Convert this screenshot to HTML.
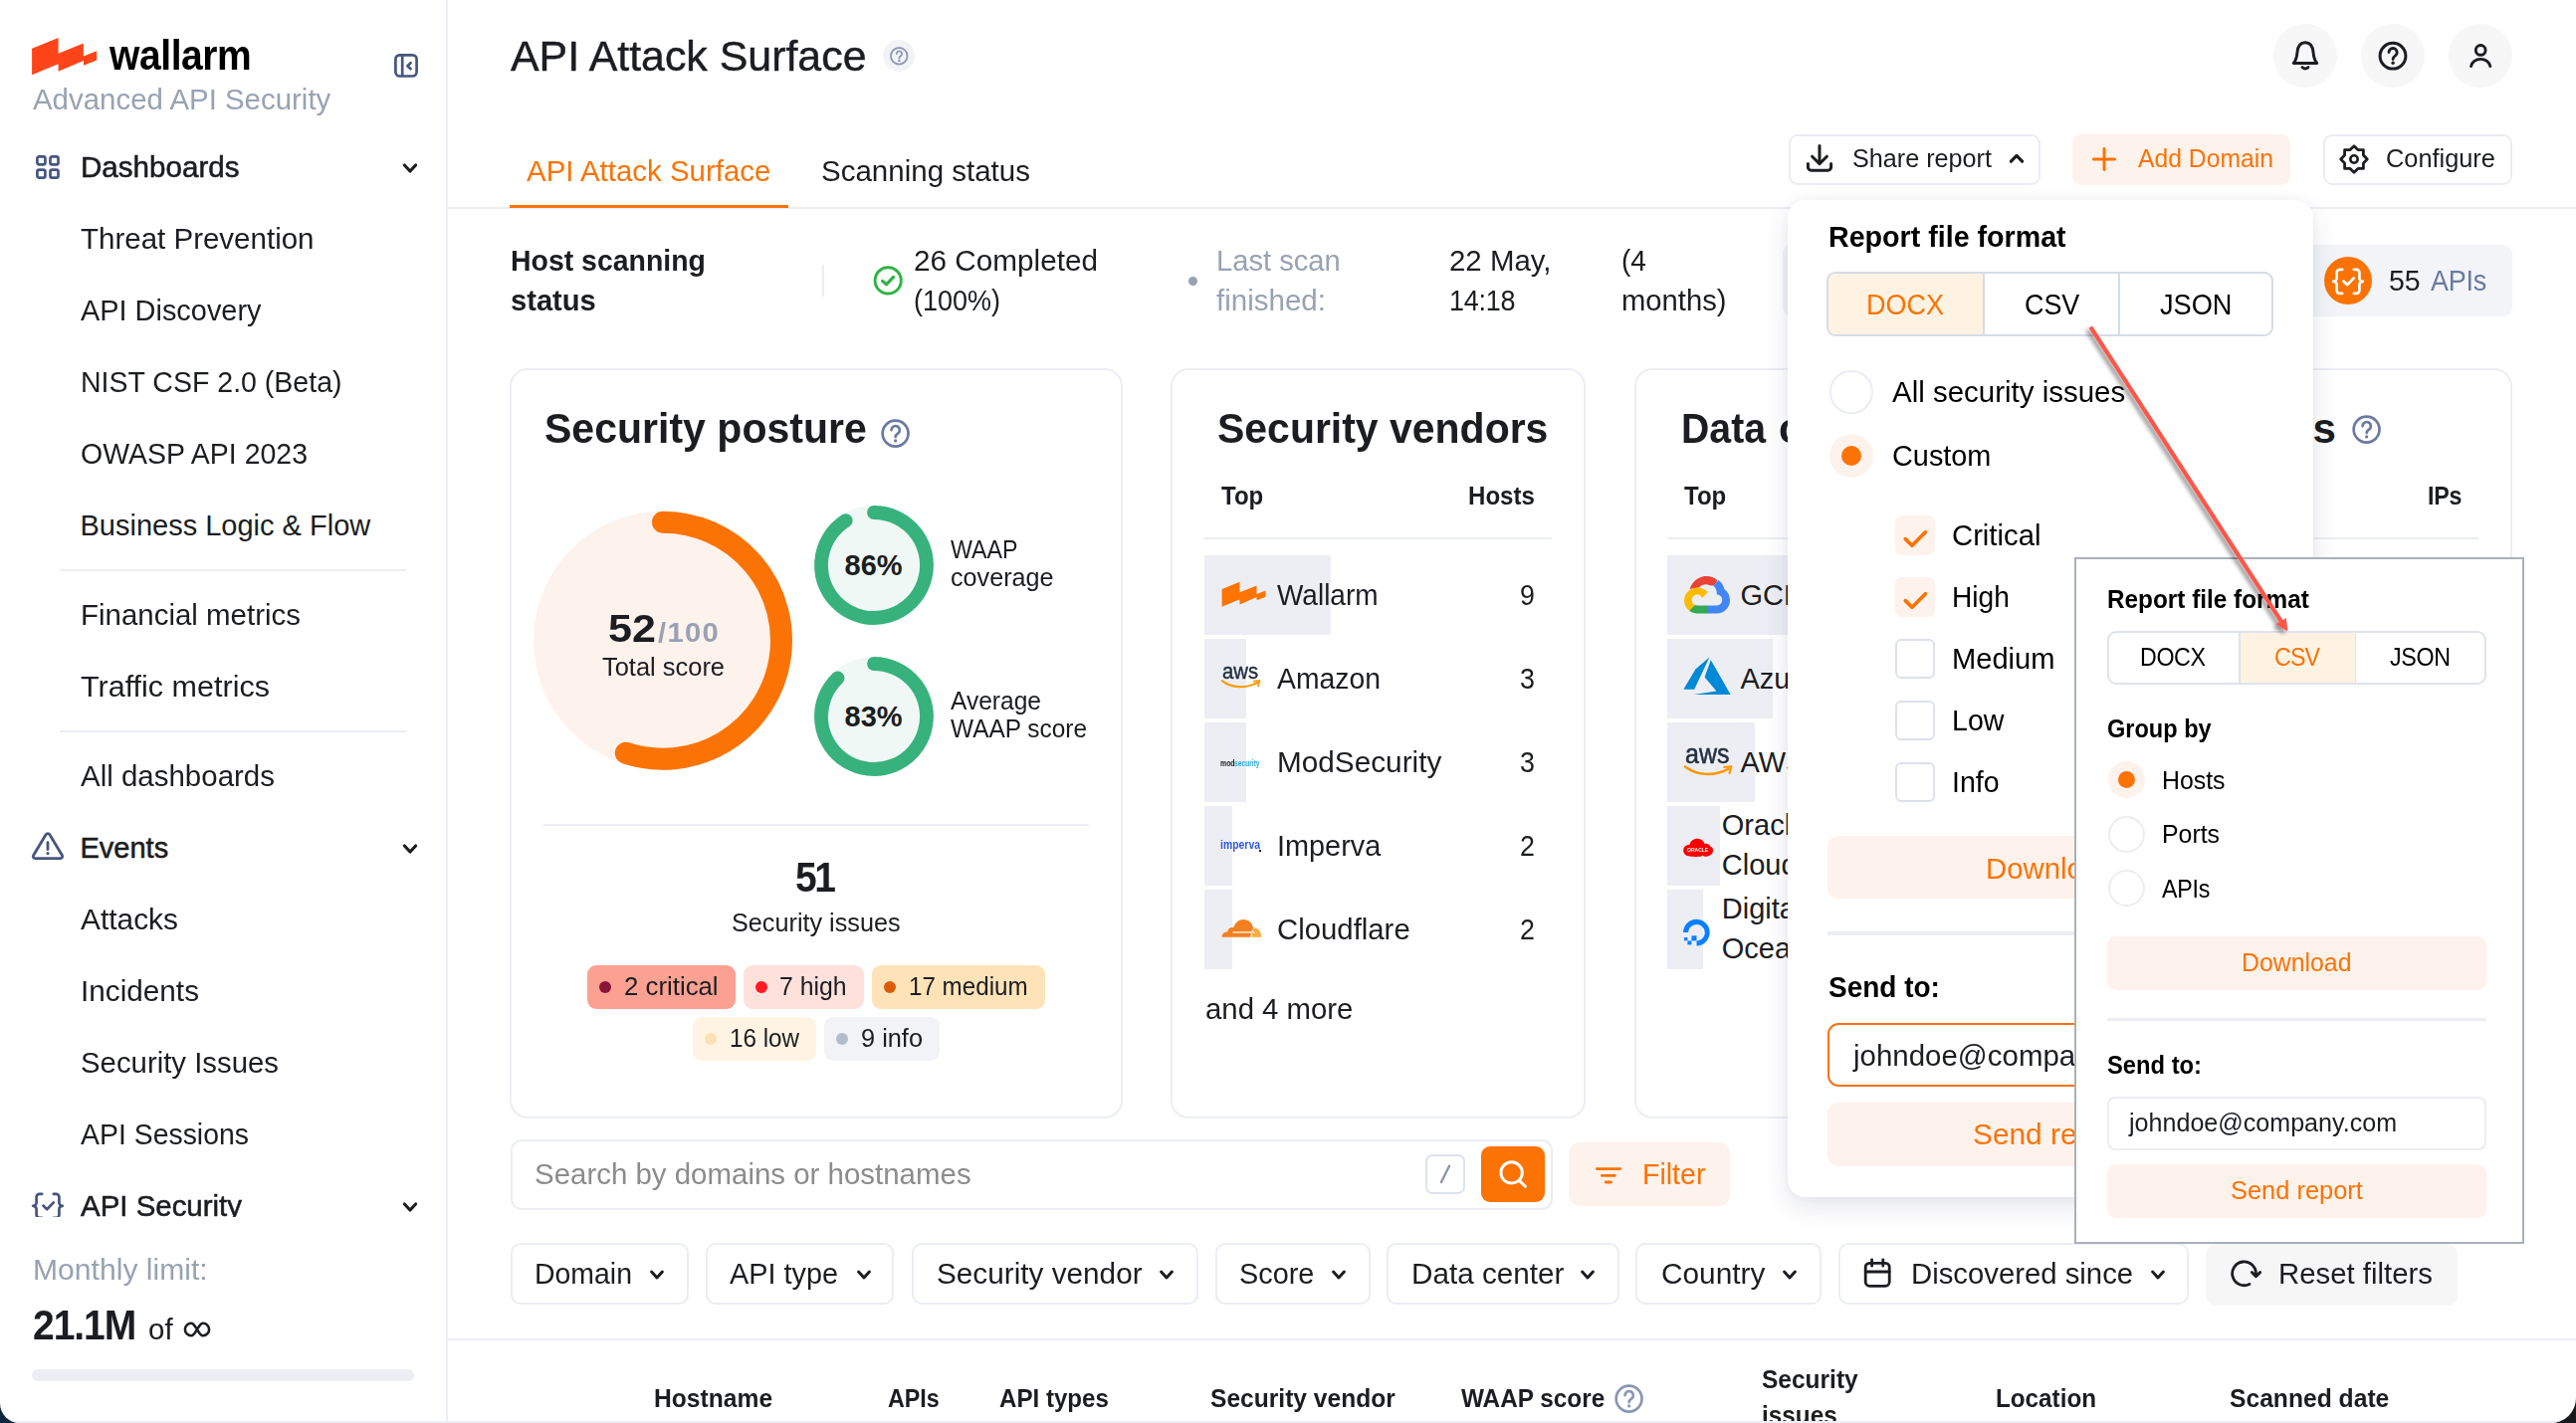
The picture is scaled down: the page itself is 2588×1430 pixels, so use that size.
<!DOCTYPE html>
<html><head><meta charset="utf-8"><title>API Attack Surface</title>
<style>
html,body{margin:0;padding:0;}
body{width:2588px;height:1430px;overflow:hidden;background:linear-gradient(90deg,#10263d 0%,#10263d 40%,#18191b 60%);font-family:"Liberation Sans",sans-serif;color:#1b1d21;}
#app{position:absolute;left:0;top:0;width:2588px;height:1430px;background:#fff;border-radius:0 0 25px 20px;overflow:hidden;}
.t{position:absolute;white-space:nowrap;line-height:1;transform-origin:0 0;}
.b{position:absolute;box-sizing:border-box;}
</style></head><body><div id="app">
<div class="b" style="left:448.0px;top:0.0px;width:2.0px;height:1430.0px;background:#eceef4;"></div>
<div class="b" style="left:0;top:0;width:448px;height:1223px;overflow:hidden;">
<svg class="b" style="left:0.0px;top:0.0px;" width="120" height="90" viewBox="0 0 120 90" fill="none"><path d="M32.1 48.8 L58.6 38.1 L58.6 53.8 L83.8 43.6 L83.8 56.5 L97.2 51.2 L97.2 60.4 L84 65.8 L84 60.9 L58.6 71.8 L58.6 64.3 L32.1 75.3 Z" fill="#ff4419"/></svg>
<span class="t" style="left:109.5px;top:35.0px;font-size:42px;font-weight:700;color:#000;letter-spacing:-0.477px;transform:scaleX(0.9300);">wallarm</span>
<span class="t" style="left:32.9px;top:86.0px;font-size:29px;color:#98a2b3;transform:scaleX(1.0145);">Advanced API Security</span>
<svg class="b" style="left:392.0px;top:50.0px;" width="32" height="32" viewBox="0 0 32 32" fill="none"><rect x="5.4" y="5.3" width="21.2" height="21.2" rx="4.2" stroke="#46557f" stroke-width="2.7"/><path d="M12.2 5.3 V26.5" stroke="#46557f" stroke-width="2.7"/><path d="M20.6 13.2 L17.4 16.2 L20.6 19.2" stroke="#46557f" stroke-width="2.7" stroke-linecap="round" stroke-linejoin="round"/></svg>
<svg class="b" style="left:34.0px;top:154.0px;" width="28" height="28" viewBox="0 0 28 28" fill="none"><rect x="3.4" y="3.3" width="8" height="8" rx="1.9" stroke="#46557f" stroke-width="2.7"/><rect x="3.4" y="16.6" width="8" height="8" rx="1.9" stroke="#46557f" stroke-width="2.7"/><rect x="16.5" y="3.3" width="8" height="8" rx="1.9" stroke="#46557f" stroke-width="2.7"/><rect x="16.5" y="16.6" width="8" height="8" rx="1.9" stroke="#46557f" stroke-width="2.7"/></svg>
<span class="t" style="left:80.5px;top:154.0px;font-size:29px;transform:scaleX(1.0200);-webkit-text-stroke:0.55px #1b1d21;">Dashboards</span>
<svg class="b" style="left:402.0px;top:160.8px;" width="20" height="16" viewBox="0 0 20 16" fill="none"><path d="M4.4 5.0 L10 11.0 L15.6 5.0" stroke="#1b1d21" stroke-width="3.2" stroke-linecap="round" stroke-linejoin="round"/></svg>
<span class="t" style="left:80.5px;top:226.0px;font-size:29px;transform:scaleX(1.0173);">Threat Prevention</span>
<span class="t" style="left:80.5px;top:298.0px;font-size:29px;transform:scaleX(0.9967);">API Discovery</span>
<span class="t" style="left:80.5px;top:370.0px;font-size:29px;transform:scaleX(0.9831);">NIST CSF 2.0 (Beta)</span>
<span class="t" style="left:80.5px;top:442.0px;font-size:29px;transform:scaleX(0.9822);">OWASP API 2023</span>
<span class="t" style="left:80.5px;top:514.0px;font-size:29px;">Business Logic &amp; Flow</span>
<span class="t" style="left:80.5px;top:604.0px;font-size:29px;transform:scaleX(1.0158);">Financial metrics</span>
<span class="t" style="left:80.5px;top:676.0px;font-size:29px;transform:scaleX(1.0529);">Traffic metrics</span>
<span class="t" style="left:80.5px;top:766.0px;font-size:29px;transform:scaleX(1.0165);">All dashboards</span>
<span class="t" style="left:80.5px;top:910.0px;font-size:29px;transform:scaleX(1.0306);">Attacks</span>
<span class="t" style="left:80.5px;top:982.0px;font-size:29px;transform:scaleX(1.0252);">Incidents</span>
<span class="t" style="left:80.5px;top:1054.0px;font-size:29px;transform:scaleX(1.0120);">Security Issues</span>
<span class="t" style="left:80.5px;top:1126.0px;font-size:29px;transform:scaleX(0.9798);">API Sessions</span>
<div class="b" style="left:60.0px;top:572.0px;width:348.0px;height:2.0px;background:#eceef4;"></div>
<div class="b" style="left:60.0px;top:734.0px;width:348.0px;height:2.0px;background:#eceef4;"></div>
<svg class="b" style="left:30.0px;top:834.0px;" width="36" height="32" viewBox="0 0 36 32" fill="none"><path d="M16.2 4.6 L3.6 25.4 a2.1 2.1 0 0 0 1.8 3.2 h25.2 a2.1 2.1 0 0 0 1.8 -3.2 L19.8 4.6 a2.1 2.1 0 0 0 -3.6 0 Z" stroke="#46557f" stroke-width="2.8" stroke-linejoin="round"/><path d="M18 12.6 V19.6" stroke="#46557f" stroke-width="2.8" stroke-linecap="round"/><circle cx="18" cy="23.6" r="1.6" fill="#46557f"/></svg>
<span class="t" style="left:80.5px;top:838.0px;font-size:29px;-webkit-text-stroke:0.55px #1b1d21;">Events</span>
<svg class="b" style="left:402.0px;top:844.5px;" width="20" height="16" viewBox="0 0 20 16" fill="none"><path d="M4.4 5.0 L10 11.0 L15.6 5.0" stroke="#1b1d21" stroke-width="3.2" stroke-linecap="round" stroke-linejoin="round"/></svg>
<svg class="b" style="left:28.0px;top:1194.0px;" width="40" height="34" viewBox="0 0 40 34" fill="none"><path d="M14.2 5.8 h-2.6 a3 3 0 0 0 -3 3 v5.6 a3.4 3.4 0 0 1 -3.4 3.4 a3.4 3.4 0 0 1 3.4 3.4 v5.6 a3 3 0 0 0 3 3 h2.6" stroke="#46557f" stroke-width="2.7" stroke-linecap="round" stroke-linejoin="round"/><path d="M25.8 5.8 h2.6 a3 3 0 0 1 3 3 v5.6 a3.4 3.4 0 0 0 3.4 3.4 a3.4 3.4 0 0 0 -3.4 3.4 v5.6 a3 3 0 0 1 -3 3 h-2.6" stroke="#46557f" stroke-width="2.7" stroke-linecap="round" stroke-linejoin="round"/><path d="M15.4 17.6 L19.2 21.2 L25.8 14.4" stroke="#46557f" stroke-width="2.7" stroke-linecap="round" stroke-linejoin="round"/></svg>
<span class="t" style="left:80.5px;top:1198.0px;font-size:29px;transform:scaleX(1.0153);-webkit-text-stroke:0.55px #1b1d21;">API Security</span>
<svg class="b" style="left:402.0px;top:1204.6px;" width="20" height="16" viewBox="0 0 20 16" fill="none"><path d="M4.4 5.0 L10 11.0 L15.6 5.0" stroke="#1b1d21" stroke-width="3.2" stroke-linecap="round" stroke-linejoin="round"/></svg>
</div>
<span class="t" style="left:32.8px;top:1262.0px;font-size:29px;color:#98a2b3;transform:scaleX(1.0384);">Monthly limit:</span>
<span class="t" style="left:33.3px;top:1311.0px;font-size:42px;font-weight:700;letter-spacing:-1.173px;transform:scaleX(0.9300);">21.1M</span>
<span class="t" style="left:149.0px;top:1322.0px;font-size:29px;transform:scaleX(1.0171);">of</span>
<svg class="b" style="left:182.1px;top:1320.1px;" width="32" height="32" viewBox="0 0 32 32" fill="none"><path d="M16 16 C14 13 12.6 9.7 10.2 9.7 a6.3 6.3 0 0 0 0 12.6 C12.6 22.3 14 19 16 16 C18 13 19.4 9.7 21.8 9.7 a6.3 6.3 0 0 1 0 12.6 C19.4 22.3 18 19 16 16 Z" stroke="#1b1d21" stroke-width="2.6"/></svg>
<div class="b" style="left:32.0px;top:1376.0px;width:384.0px;height:12.0px;background:#edeef3;border-radius:6px;"></div>
<span class="t" style="left:512.5px;top:36.0px;font-size:42px;transform:scaleX(1.0209);-webkit-text-stroke:0.45px #1b1d21;">API Attack Surface</span>
<div class="b" style="left:887.0px;top:40.0px;width:32.0px;height:32.0px;background:#f2f3f6;border-radius:50%;"></div>
<svg class="b" style="left:891.5px;top:44.7px;" width="22.6" height="22.6" viewBox="0 0 32 32" fill="none"><circle cx="16" cy="16" r="11.73" stroke="#8e97b0" stroke-width="2.54"/><path d="M12.3 12.9 a3.8 3.8 0 1 1 5.9 3.2 c-1.4 0.9 -2.1 1.5 -2.1 3.1" stroke="#8e97b0" stroke-width="2.54" stroke-linecap="round" stroke-linejoin="round"/><circle cx="16.05" cy="22.7" r="1.84" fill="#8e97b0"/></svg>
<div class="b" style="left:2284.0px;top:24.0px;width:64.0px;height:64.0px;background:#f7f7f8;border-radius:50%;"></div>
<div class="b" style="left:2372.0px;top:24.0px;width:64.0px;height:64.0px;background:#f7f7f8;border-radius:50%;"></div>
<div class="b" style="left:2460.0px;top:24.0px;width:64.0px;height:64.0px;background:#f7f7f8;border-radius:50%;"></div>
<svg class="b" style="left:2296.0px;top:36.0px;" width="40" height="40" viewBox="0 0 40 40" fill="none"><path d="M8.2 27.5 h23.6 c-2.6 -3 -3.3 -5.6 -3.7 -10.6 C27.6 10.6 24.6 6.8 20 6.8 S12.4 10.6 11.9 16.9 C11.5 21.9 10.8 24.5 8.2 27.5 Z" stroke="#1b1d21" stroke-width="2.9" stroke-linejoin="round"/><path d="M17 31.6 q3 2.6 6 0" stroke="#1b1d21" stroke-width="2.9" stroke-linecap="round"/></svg>
<svg class="b" style="left:2384.0px;top:36.0px;" width="40" height="40" viewBox="0 0 40 40" fill="none"><circle cx="20" cy="20.2" r="12.9" stroke="#1b1d21" stroke-width="3"/><path d="M16 16.6 a4.1 4.1 0 1 1 6.3 3.5 c-1.5 1 -2.2 1.7 -2.2 3.4" stroke="#1b1d21" stroke-width="2.9" stroke-linecap="round" stroke-linejoin="round"/><circle cx="20.1" cy="27.3" r="1.7" fill="#1b1d21"/></svg>
<svg class="b" style="left:2472.0px;top:36.0px;" width="40" height="40" viewBox="0 0 40 40" fill="none"><circle cx="20.2" cy="14.4" r="4.9" stroke="#1b1d21" stroke-width="2.9"/><path d="M10.6 30.6 a9.7 8.4 0 0 1 19.2 0" stroke="#1b1d21" stroke-width="2.9" stroke-linecap="round"/></svg>
<span class="t" style="left:529.2px;top:158.0px;font-size:29px;color:#fb7305;transform:scaleX(1.0149);">API Attack Surface</span>
<span class="t" style="left:824.5px;top:158.0px;font-size:29px;transform:scaleX(1.0176);">Scanning status</span>
<div class="b" style="left:450.0px;top:208.0px;width:2138.0px;height:2.0px;background:#eceef4;"></div>
<div class="b" style="left:512.0px;top:205.6px;width:280.0px;height:3.0px;background:#fb7305;"></div>
<div class="b" style="left:1796.5px;top:134.5px;width:253.0px;height:51.0px;border:2px solid #ebedf4;border-radius:9px;background:#fff;"></div>
<svg class="b" style="left:1810.0px;top:142.0px;" width="36" height="36" viewBox="0 0 36 36" fill="none"><path d="M18 4.6 V21.6 M10.6 15.2 L18 22.6 L25.4 15.2" stroke="#1b1d21" stroke-width="3" stroke-linecap="round" stroke-linejoin="round"/><path d="M6.4 22.4 V26 a3.2 3.2 0 0 0 3.2 3.2 H26.4 a3.2 3.2 0 0 0 3.2 -3.2 V22.4" stroke="#1b1d21" stroke-width="3" stroke-linecap="round" stroke-linejoin="round"/></svg>
<span class="t" style="left:1861.3px;top:147.0px;font-size:25px;transform:scaleX(1.0068);">Share report</span>
<svg class="b" style="left:2016.0px;top:151.0px;" width="20" height="16" viewBox="0 0 20 16" fill="none"><path d="M4.4 11.2 L10 5.4 L15.6 11.2" stroke="#1b1d21" stroke-width="3.2" stroke-linecap="round" stroke-linejoin="round"/></svg>
<div class="b" style="left:2082.0px;top:134.5px;width:218.5px;height:51.0px;background:#fef2ec;border-radius:9px;"></div>
<svg class="b" style="left:2098.0px;top:144.0px;" width="32" height="32" viewBox="0 0 32 32" fill="none"><path d="M16 5.4 V26.6 M5.4 16 H26.6" stroke="#fb7305" stroke-width="2.9" stroke-linecap="round"/></svg>
<span class="t" style="left:2147.5px;top:147.0px;font-size:25px;color:#fb7305;transform:scaleX(0.9886);">Add Domain</span>
<div class="b" style="left:2334.0px;top:134.5px;width:189.5px;height:51.0px;border:2px solid #ebedf4;border-radius:9px;background:#fff;"></div>
<svg class="b" style="left:2346.9px;top:141.8px;" width="36" height="36" viewBox="0 0 36 36" fill="none"><path d="M18.00 4.70 L21.90 8.58 L27.40 8.60 L27.42 14.10 L31.30 18.00 L27.42 21.90 L27.40 27.40 L21.90 27.42 L18.00 31.30 L14.10 27.42 L8.60 27.40 L8.58 21.90 L4.70 18.00 L8.58 14.10 L8.60 8.60 L14.10 8.58 Z" stroke="#1b1d21" stroke-width="2.8" stroke-linejoin="round"/><circle cx="18" cy="18" r="3.7" stroke="#1b1d21" stroke-width="2.6"/></svg>
<span class="t" style="left:2397.4px;top:147.0px;font-size:25px;transform:scaleX(1.0139);">Configure</span>
<span class="t" style="left:512.7px;top:248.0px;font-size:29px;font-weight:700;transform:scaleX(0.9805);">Host scanning</span>
<span class="t" style="left:512.7px;top:288.0px;font-size:29px;font-weight:700;transform:scaleX(1.0045);">status</span>
<div class="b" style="left:826.3px;top:266.0px;width:2.0px;height:32.0px;background:#eceef4;"></div>
<svg class="b" style="left:874.0px;top:264.0px;" width="36" height="36" viewBox="0 0 36 36" fill="none"><circle cx="18.2" cy="17.9" r="13.1" stroke="#2fb344" stroke-width="2.9"/><path d="M12.6 18.4 L16.5 21.8 L23.6 14.4" stroke="#2fb344" stroke-width="3.2" stroke-linejoin="round" stroke-linecap="round"/></svg>
<span class="t" style="left:918.0px;top:248.0px;font-size:29px;transform:scaleX(1.0246);">26 Completed</span>
<span class="t" style="left:918.0px;top:288.0px;font-size:29px;transform:scaleX(0.9306);">(100%)</span>
<div class="b" style="left:1193.6px;top:277.8px;width:9.0px;height:9.0px;background:#98a2b3;border-radius:50%;"></div>
<span class="t" style="left:1222.0px;top:248.0px;font-size:29px;color:#98a2b3;transform:scaleX(1.0046);">Last scan</span>
<span class="t" style="left:1222.0px;top:288.0px;font-size:29px;color:#98a2b3;transform:scaleX(1.0184);">finished:</span>
<span class="t" style="left:1455.5px;top:248.0px;font-size:29px;transform:scaleX(1.0148);">22 May,</span>
<span class="t" style="left:1455.5px;top:288.0px;font-size:29px;letter-spacing:-0.267px;transform:scaleX(0.9300);">14:18</span>
<span class="t" style="left:1629.0px;top:248.0px;font-size:29px;transform:scaleX(0.9696);">(4</span>
<span class="t" style="left:1629.0px;top:288.0px;font-size:29px;transform:scaleX(1.0080);">months)</span>
<div class="b" style="left:1791.0px;top:246.0px;width:500.0px;height:72.0px;background:#f2f4f8;border-radius:9px;"></div>
<div class="b" style="left:2300.0px;top:246.0px;width:223.8px;height:72.0px;background:#f2f4f8;border-radius:9px;"></div>
<div class="b" style="left:2335.0px;top:257.8px;width:48.2px;height:48.2px;background:#fb7305;border-radius:50%;"></div>
<svg class="b" style="left:2339.1px;top:264.9px;" width="40" height="34" viewBox="0 0 40 34" fill="none"><path d="M14.2 5.8 h-2.6 a3 3 0 0 0 -3 3 v5.6 a3.4 3.4 0 0 1 -3.4 3.4 a3.4 3.4 0 0 1 3.4 3.4 v5.6 a3 3 0 0 0 3 3 h2.6" stroke="#fff" stroke-width="2.7" stroke-linecap="round" stroke-linejoin="round"/><path d="M25.8 5.8 h2.6 a3 3 0 0 1 3 3 v5.6 a3.4 3.4 0 0 0 3.4 3.4 a3.4 3.4 0 0 0 -3.4 3.4 v5.6 a3 3 0 0 1 -3 3 h-2.6" stroke="#fff" stroke-width="2.7" stroke-linecap="round" stroke-linejoin="round"/><path d="M15.4 17.6 L19.2 21.2 L25.8 14.4" stroke="#fff" stroke-width="2.7" stroke-linecap="round" stroke-linejoin="round"/></svg>
<span class="t" style="left:2400.2px;top:268.0px;font-size:29px;transform:scaleX(0.9827);">55</span>
<span class="t" style="left:2442.1px;top:268.0px;font-size:29px;color:#6b7a9f;letter-spacing:-0.236px;transform:scaleX(0.9300);">APIs</span>
<div class="b" style="left:512.0px;top:370.0px;width:616.0px;height:754.0px;border:2px solid #eceef4;border-radius:18px;background:#fff;"></div>
<span class="t" style="left:546.6px;top:410.0px;font-size:42px;font-weight:700;transform:scaleX(0.9770);">Security posture</span>
<svg class="b" style="left:882.4px;top:418.4px;" width="35.2" height="35.2" viewBox="0 0 32 32" fill="none"><circle cx="16" cy="16" r="11.77" stroke="#6b7a9f" stroke-width="2.45"/><path d="M12.3 12.9 a3.8 3.8 0 1 1 5.9 3.2 c-1.4 0.9 -2.1 1.5 -2.1 3.1" stroke="#6b7a9f" stroke-width="2.45" stroke-linecap="round" stroke-linejoin="round"/><circle cx="16.05" cy="22.7" r="1.48" fill="#6b7a9f"/></svg>
<svg class="b" style="left:530.0px;top:507.0px;" width="272" height="272" viewBox="0 0 272 272" fill="none"><circle cx="136" cy="136.7" r="130" fill="#fef2ec"/><path d="M136.00 17.70 A119 119 0 1 1 98.83 249.75" stroke="#fb7305" stroke-width="22" stroke-linecap="round" fill="none"/></svg>
<span class="t" style="left:610.7px;top:612.0px;font-size:39px;font-weight:700;transform:scaleX(1.1041);">52</span>
<span class="t" style="left:660.8px;top:623.0px;font-size:27px;font-weight:700;color:#98a2b3;letter-spacing:1.194px;transform:scaleX(1.0850);">/100</span>
<span class="t" style="left:605.0px;top:658.0px;font-size:25px;transform:scaleX(1.0175);">Total score</span>
<svg class="b" style="left:812.0px;top:502.0px;" width="132" height="132" viewBox="0 0 132 132" fill="none"><circle cx="66" cy="66" r="60" fill="#eff8f5"/><path d="M66.00 13.00 A53 53 0 1 1 37.76 21.15" stroke="#38b27c" stroke-width="13.8" stroke-linecap="round" fill="none"/></svg>
<span class="t" style="left:848.5px;top:554.0px;font-size:29px;font-weight:700;">86%</span>
<svg class="b" style="left:812.0px;top:654.0px;" width="132" height="132" viewBox="0 0 132 132" fill="none"><circle cx="66" cy="66" r="60" fill="#eff8f5"/><path d="M66.00 13.00 A53 53 0 1 1 29.58 27.49" stroke="#38b27c" stroke-width="13.8" stroke-linecap="round" fill="none"/></svg>
<span class="t" style="left:848.5px;top:706.0px;font-size:29px;font-weight:700;">83%</span>
<span class="t" style="left:954.5px;top:540.0px;font-size:25px;letter-spacing:-0.040px;transform:scaleX(0.9300);">WAAP</span>
<span class="t" style="left:954.5px;top:568.0px;font-size:25px;transform:scaleX(1.0065);">coverage</span>
<span class="t" style="left:954.5px;top:692.0px;font-size:25px;transform:scaleX(0.9821);">Average</span>
<span class="t" style="left:954.5px;top:720.0px;font-size:25px;transform:scaleX(0.9763);">WAAP score</span>
<div class="b" style="left:546.0px;top:827.6px;width:548.0px;height:2.0px;background:#eceef4;"></div>
<span class="t" style="left:799.3px;top:861.0px;font-size:42px;font-weight:700;letter-spacing:-2.633px;transform:scaleX(0.9300);">51</span>
<span class="t" style="left:735.3px;top:915.0px;font-size:25px;transform:scaleX(1.0089);">Security issues</span>
<div class="b" style="left:590.3px;top:970.3px;width:148.6px;height:43.6px;background:#fca192;border-radius:9px;"></div>
<div class="b" style="left:601.9px;top:986.1px;width:12.0px;height:12.0px;background:#8a1538;border-radius:50%;"></div>
<span class="t" style="left:627.3px;top:979.0px;font-size:25px;transform:scaleX(1.0318);">2 critical</span>
<div class="b" style="left:747.2px;top:970.3px;width:120.5px;height:43.6px;background:#ffe1db;border-radius:9px;"></div>
<div class="b" style="left:758.8px;top:986.1px;width:12.0px;height:12.0px;background:#ff1a25;border-radius:50%;"></div>
<span class="t" style="left:783.4px;top:979.0px;font-size:25px;transform:scaleX(0.9925);">7 high</span>
<div class="b" style="left:876.3px;top:970.3px;width:173.5px;height:43.6px;background:#ffe3b8;border-radius:9px;"></div>
<div class="b" style="left:887.9px;top:986.1px;width:12.0px;height:12.0px;background:#d95c07;border-radius:50%;"></div>
<span class="t" style="left:913.0px;top:979.0px;font-size:25px;transform:scaleX(0.9672);">17 medium</span>
<div class="b" style="left:696.4px;top:1022.4px;width:123.4px;height:43.6px;background:#fff4e3;border-radius:9px;"></div>
<div class="b" style="left:708.0px;top:1038.2px;width:12.0px;height:12.0px;background:#fde0b3;border-radius:50%;"></div>
<span class="t" style="left:732.8px;top:1031.0px;font-size:25px;transform:scaleX(0.9701);">16 low</span>
<div class="b" style="left:828.2px;top:1022.4px;width:115.6px;height:43.6px;background:#f2f3f7;border-radius:9px;"></div>
<div class="b" style="left:839.8px;top:1038.2px;width:12.0px;height:12.0px;background:#b5bcc9;border-radius:50%;"></div>
<span class="t" style="left:865.0px;top:1031.0px;font-size:25px;transform:scaleX(1.0139);">9 info</span>
<div class="b" style="left:1176.0px;top:370.0px;width:417.0px;height:754.0px;border:2px solid #eceef4;border-radius:18px;background:#fff;"></div>
<span class="t" style="left:1223.0px;top:410.0px;font-size:42px;font-weight:700;transform:scaleX(0.9753);">Security vendors</span>
<span class="t" style="left:1227.3px;top:486.0px;font-size:25px;font-weight:700;transform:scaleX(0.9601);">Top</span>
<span class="t" style="left:1475.3px;top:486.0px;font-size:25px;font-weight:700;transform:scaleX(0.9632);">Hosts</span>
<div class="b" style="left:1210.0px;top:540.0px;width:348.5px;height:2.0px;background:#eceef4;"></div>
<div class="b" style="left:1210.0px;top:558.0px;width:127.0px;height:79.7px;background:#edeef4;"></div>
<span class="t" style="left:1283.3px;top:584.0px;font-size:29px;transform:scaleX(0.9644);">Wallarm</span>
<span class="t" style="left:1526.7px;top:584.0px;font-size:29px;transform:scaleX(0.9238);">9</span>
<div class="b" style="left:1210.0px;top:642.0px;width:41.8px;height:79.7px;background:#edeef4;"></div>
<span class="t" style="left:1283.3px;top:668.0px;font-size:29px;transform:scaleX(0.9766);">Amazon</span>
<span class="t" style="left:1526.7px;top:668.0px;font-size:29px;transform:scaleX(0.9238);">3</span>
<div class="b" style="left:1210.0px;top:726.0px;width:41.8px;height:79.7px;background:#edeef4;"></div>
<span class="t" style="left:1283.3px;top:752.0px;font-size:29px;transform:scaleX(1.0256);">ModSecurity</span>
<span class="t" style="left:1526.7px;top:752.0px;font-size:29px;transform:scaleX(0.9238);">3</span>
<div class="b" style="left:1210.0px;top:810.0px;width:27.8px;height:79.7px;background:#edeef4;"></div>
<span class="t" style="left:1283.3px;top:836.0px;font-size:29px;transform:scaleX(0.9947);">Imperva</span>
<span class="t" style="left:1526.7px;top:836.0px;font-size:29px;transform:scaleX(0.9238);">2</span>
<div class="b" style="left:1210.0px;top:894.0px;width:27.8px;height:79.7px;background:#edeef4;"></div>
<span class="t" style="left:1283.3px;top:920.0px;font-size:29px;transform:scaleX(1.0115);">Cloudflare</span>
<span class="t" style="left:1526.7px;top:920.0px;font-size:29px;transform:scaleX(0.9238);">2</span>
<svg class="b" style="left:1205.5px;top:559.4px;" width="90" height="60" viewBox="0 0 90 60" fill="none"><path d="M32.1 48.8 L58.6 38.1 L58.6 53.8 L83.8 43.6 L83.8 56.5 L97.2 51.2 L97.2 60.4 L84 65.8 L84 60.9 L58.6 71.8 L58.6 64.3 L32.1 75.3 Z" fill="#ff7300" transform="scale(0.674)"/></svg>
<span class="t" style="left:1228.0px;top:664.0px;font-size:22.3px;color:#232f3e;transform:scaleX(0.9100);-webkit-text-stroke:0.41px #232f3e;">aws</span>
<svg class="b" style="left:1226.0px;top:683.4px;" width="42.5" height="11.4" viewBox="0 0 50 14" fill="none"><path d="M1 1.4 C13 10.8 31 11.2 44.6 3.6" stroke="#ff9900" stroke-width="2.5" stroke-linecap="round"/><path d="M40.2 1.9 L47.4 1.2 L45.6 8" stroke="#ff9900" stroke-width="2.1" stroke-linecap="round" stroke-linejoin="round"/></svg>
<span class="t" style="left:1226.0px;top:762.0px;font-size:9.6px;font-weight:700;color:#1a1a1a;transform:scaleX(0.7205);">mod</span>
<span class="t" style="left:1240.4px;top:762.0px;font-size:9.6px;font-weight:700;color:#29a9e1;transform:scaleX(0.6952);">security</span>
<span class="t" style="left:1225.6px;top:843.0px;font-size:12.6px;font-weight:700;color:#2d5be3;transform:scaleX(0.8277);">imperva</span>
<div class="b" style="left:1265.0px;top:854.0px;width:2.0px;height:2.0px;background:#1a1a1a;"></div>
<svg class="b" style="left:1227.0px;top:922.0px;" width="42" height="22" viewBox="0 0 42 22" fill="none"><path d="M0.5 19.8 C0.6 16.6 3 14.4 6.2 14.6 C6.4 11.4 9.2 9.4 12.2 10.2 C13.6 5.4 17.6 2 22.4 2 C27.6 2 31.4 5.8 32 10.4 L29.6 19.8 Z" fill="#f38020"/><path d="M32.4 10.6 C36.6 10.4 40 13.6 40.2 19.8 H29.8 Z" fill="#faad3f"/><path d="M11.5 14.9 H28.6 C30 14.9 30.6 15.6 30.4 16.6 L29.8 19.8" stroke="#fff" stroke-width="1.1" fill="none"/><path d="M29.4 14.2 C31.6 13.4 33 14.4 33.2 16" stroke="#fff" stroke-width="1" fill="none"/></svg>
<span class="t" style="left:1211.0px;top:1000.0px;font-size:29px;transform:scaleX(1.0116);">and 4 more</span>
<div class="b" style="left:1642.0px;top:370.0px;width:882.0px;height:754.0px;border:2px solid #eceef4;border-radius:18px;background:#fff;"></div>
<span class="t" style="left:1688.5px;top:410.0px;font-size:42px;font-weight:700;transform:scaleX(0.9337);">Data</span>
<span class="t" style="left:1787.0px;top:410.0px;font-size:42px;font-weight:700;transform:scaleX(1.0038);">centers</span>
<span class="t" style="left:2323.5px;top:410.0px;font-size:42px;font-weight:700;">s</span>
<svg class="b" style="left:2360.1px;top:414.4px;" width="35.2" height="35.2" viewBox="0 0 32 32" fill="none"><circle cx="16" cy="16" r="11.77" stroke="#6b7a9f" stroke-width="2.45"/><path d="M12.3 12.9 a3.8 3.8 0 1 1 5.9 3.2 c-1.4 0.9 -2.1 1.5 -2.1 3.1" stroke="#6b7a9f" stroke-width="2.45" stroke-linecap="round" stroke-linejoin="round"/><circle cx="16.05" cy="22.7" r="1.48" fill="#6b7a9f"/></svg>
<span class="t" style="left:1692.0px;top:486.0px;font-size:25px;font-weight:700;transform:scaleX(0.9601);">Top</span>
<span class="t" style="left:2438.8px;top:486.0px;font-size:25px;font-weight:700;letter-spacing:-0.267px;transform:scaleX(0.9300);">IPs</span>
<div class="b" style="left:1675.0px;top:540.0px;width:815.0px;height:2.0px;background:#eceef4;"></div>
<div class="b" style="left:1675.0px;top:558.0px;width:200.0px;height:79.7px;background:#edeef4;"></div>
<div class="b" style="left:1675.0px;top:642.0px;width:105.6px;height:79.7px;background:#edeef4;"></div>
<div class="b" style="left:1675.0px;top:726.0px;width:88.0px;height:79.7px;background:#edeef4;"></div>
<div class="b" style="left:1675.0px;top:810.0px;width:53.0px;height:79.7px;background:#edeef4;"></div>
<div class="b" style="left:1675.0px;top:894.0px;width:36.0px;height:79.7px;background:#edeef4;"></div>
<span class="t" style="left:1748.4px;top:584.0px;font-size:29px;">GCP</span>
<span class="t" style="left:1748.4px;top:668.0px;font-size:29px;">Azure</span>
<span class="t" style="left:1748.4px;top:752.0px;font-size:29px;">AWS</span>
<span class="t" style="left:1729.8px;top:815.0px;font-size:29px;">Oracle</span>
<span class="t" style="left:1729.8px;top:855.0px;font-size:29px;">Cloud</span>
<span class="t" style="left:1729.8px;top:899.0px;font-size:29px;">Digital</span>
<span class="t" style="left:1729.8px;top:939.0px;font-size:29px;">Ocean</span>
<svg class="b" style="left:1691.0px;top:577.8px;" width="48" height="39" viewBox="0 0 48 39" fill="none"><path d="M30.4 10.6 l3 -3 l0.9 -2.6 C29.6 0.6 21.6 -0.4 15.4 3 C11 5.4 7.8 9.4 6.6 14 l3 -0.4 l6.2 -1 l0.4 -0.5 C19 9 23.6 8.4 27.2 10.6 Z" fill="#ea4335"/><path d="M41.4 14 C40.5 10.6 38.6 7.4 35.8 5 L30.2 10.6 C32.6 12.6 34 15.4 33.8 18.6 v1 c3 0 5.4 2.4 5.4 5.4 s-2.4 5.4 -5.4 5.4 H24 l-1 1 v6 l1 1 h9.8 C41 38.4 47 32.6 47 25.4 C47 20.6 44.8 16.6 41.4 14 Z" fill="#4285f4"/><path d="M14.2 38.4 H24 v-8 h-9.8 c-0.8 0 -1.5 -0.2 -2.2 -0.5 l-1.4 0.4 l-4 4 l-0.4 1.4 C8.6 37.4 11.3 38.4 14.2 38.4 Z" fill="#34a853"/><path d="M14.2 12.4 C7 12.4 1 18.2 1 25.4 c0 4.2 2 8 5.2 10.4 l5.8 -5.8 C9.4 28.8 8 25.6 9.2 22.8 c1.2 -2.8 4.4 -4 7.2 -2.8 c1.2 0.6 2.2 1.6 2.8 2.8 l5.8 -5.8 C22.4 14.2 18.4 12.4 14.2 12.4 Z" fill="#fbbc05"/></svg>
<svg class="b" style="left:1691.4px;top:659.7px;" width="48" height="39" viewBox="0 0 48 39" fill="none"><path d="M26.4 0.4 L12.4 12.6 L0.4 32.8 H11.2 Z" fill="#0089d6"/><path d="M27.8 3.2 L21.6 20.4 L33.4 34.4 L10.6 38 H47.6 Z" fill="#0089d6"/></svg>
<span class="t" style="left:1692.8px;top:744.0px;font-size:27.5px;color:#232f3e;transform:scaleX(0.9099);-webkit-text-stroke:0.5px #232f3e;">aws</span>
<svg class="b" style="left:1690.6px;top:769.0px;" width="52.0" height="14.0" viewBox="0 0 50 14" fill="none"><path d="M1 1.4 C13 10.8 31 11.2 44.6 3.6" stroke="#ff9900" stroke-width="2.5" stroke-linecap="round"/><path d="M40.2 1.9 L47.4 1.2 L45.6 8" stroke="#ff9900" stroke-width="2.1" stroke-linecap="round" stroke-linejoin="round"/></svg>
<svg class="b" style="left:1690.0px;top:841.0px;" width="34" height="22" viewBox="0 0 34 22" fill="none"><path d="M8.2 19.4 C3.6 19.6 1 16.4 1.2 13.2 C1.4 9.8 4.4 7.6 7.4 8 C8.4 3.8 12 1.6 15.6 1.8 C19 2 21.6 4 22.6 7 C25 6.2 27.6 7.4 28.4 9.8 C30.4 10.2 31.2 12.2 31 14 C30.8 16.6 28.6 19.2 25.2 19.4 C23.4 20 21.8 19.4 20.8 18.4 C19.6 19.8 17.8 20.2 16 19.4 C14.2 20.4 12.6 20.2 11.4 19.4 C10.4 19.8 9.2 19.8 8.2 19.4 Z" fill="#f80000"/></svg>
<span class="t" style="left:1695.4px;top:852.0px;font-size:5.4px;font-weight:700;color:#fff;transform:scaleX(0.9299);">ORACLE</span>
<svg class="b" style="left:1689.0px;top:922.0px;" width="32" height="32" viewBox="0 0 32 32" fill="none"><path d="M15.5 28.6 V23.4 C21 23.4 25.2 18 23.2 12.2 C22.4 10 20.6 8.2 18.4 7.4 C12.6 5.4 7.2 9.6 7.2 15.1 H2 C2 6.4 10.4 -0.4 19.6 2.4 C23.6 3.6 26.8 6.8 28 10.8 C30.8 20 24.2 28.6 15.5 28.6 Z" fill="#0a80ff"/><rect x="10.4" y="18.3" width="5.1" height="5.1" fill="#0a80ff"/><rect x="6.4" y="23.4" width="4" height="4" fill="#0a80ff"/><rect x="3.1" y="20" width="3.3" height="3.3" fill="#0a80ff"/></svg>
<div class="b" style="left:512.5px;top:1144.5px;width:1047.0px;height:71.0px;border:2px solid #ebedf4;border-radius:11px;background:#fff;"></div>
<span class="t" style="left:536.8px;top:1166.0px;font-size:29px;color:#8c8c8c;transform:scaleX(1.0153);">Search by domains or hostnames</span>
<div class="b" style="left:1432.4px;top:1160.2px;width:39.2px;height:39.4px;border:2px solid #dde3ee;border-radius:7px;background:#fff;"></div>
<svg class="b" style="left:1440.0px;top:1164.0px;" width="24" height="32" viewBox="0 0 24 32" fill="none"><path d="M16.5 6.7 L7.5 24.9" stroke="#8a94ad" stroke-width="2.3"/></svg>
<div class="b" style="left:1488.0px;top:1152.0px;width:64.0px;height:56.0px;background:#fb7305;border-radius:9px;"></div>
<svg class="b" style="left:1500.0px;top:1160.0px;" width="40" height="40" viewBox="0 0 40 40" fill="none"><circle cx="18.6" cy="18.4" r="10.7" stroke="#fff" stroke-width="3"/><path d="M26.6 26.6 L32.4 32.3" stroke="#fff" stroke-width="3" stroke-linecap="round"/></svg>
<div class="b" style="left:1576.3px;top:1148.0px;width:161.4px;height:63.7px;background:#fef2ec;border-radius:11px;"></div>
<svg class="b" style="left:1600.0px;top:1166.0px;" width="32" height="32" viewBox="0 0 32 32" fill="none"><path d="M4.3 8.6 H27.7 M9.4 15.4 H22.3 M13.3 22 H18.4" stroke="#fb7305" stroke-width="2.9" stroke-linecap="round"/></svg>
<span class="t" style="left:1650.0px;top:1166.0px;font-size:29px;color:#fb7305;transform:scaleX(0.9838);">Filter</span>
<div class="b" style="left:512.7px;top:1248.8px;width:178.9px;height:62.4px;border:2px solid #ebedf4;border-radius:10px;background:#fff;"></div>
<span class="t" style="left:536.8px;top:1266.0px;font-size:29px;transform:scaleX(0.9807);">Domain</span>
<svg class="b" style="left:650.4px;top:1273.0px;" width="20" height="16" viewBox="0 0 20 16" fill="none"><path d="M4.6 5.1 L10 10.9 L15.4 5.1" stroke="#1b1d21" stroke-width="3.0" stroke-linecap="round" stroke-linejoin="round"/></svg>
<div class="b" style="left:709.0px;top:1248.8px;width:189.2px;height:62.4px;border:2px solid #ebedf4;border-radius:10px;background:#fff;"></div>
<span class="t" style="left:733.0px;top:1266.0px;font-size:29px;transform:scaleX(0.9943);">API type</span>
<svg class="b" style="left:857.5px;top:1273.0px;" width="20" height="16" viewBox="0 0 20 16" fill="none"><path d="M4.6 5.1 L10 10.9 L15.4 5.1" stroke="#1b1d21" stroke-width="3.0" stroke-linecap="round" stroke-linejoin="round"/></svg>
<div class="b" style="left:916.0px;top:1248.8px;width:287.5px;height:62.4px;border:2px solid #ebedf4;border-radius:10px;background:#fff;"></div>
<span class="t" style="left:940.8px;top:1266.0px;font-size:29px;transform:scaleX(1.0254);">Security vendor</span>
<svg class="b" style="left:1162.2px;top:1273.0px;" width="20" height="16" viewBox="0 0 20 16" fill="none"><path d="M4.6 5.1 L10 10.9 L15.4 5.1" stroke="#1b1d21" stroke-width="3.0" stroke-linecap="round" stroke-linejoin="round"/></svg>
<div class="b" style="left:1220.6px;top:1248.8px;width:156.0px;height:62.4px;border:2px solid #ebedf4;border-radius:10px;background:#fff;"></div>
<span class="t" style="left:1245.0px;top:1266.0px;font-size:29px;transform:scaleX(0.9953);">Score</span>
<svg class="b" style="left:1335.0px;top:1273.0px;" width="20" height="16" viewBox="0 0 20 16" fill="none"><path d="M4.6 5.1 L10 10.9 L15.4 5.1" stroke="#1b1d21" stroke-width="3.0" stroke-linecap="round" stroke-linejoin="round"/></svg>
<div class="b" style="left:1393.4px;top:1248.8px;width:233.3px;height:62.4px;border:2px solid #ebedf4;border-radius:10px;background:#fff;"></div>
<span class="t" style="left:1417.8px;top:1266.0px;font-size:29px;transform:scaleX(1.0239);">Data center</span>
<svg class="b" style="left:1585.2px;top:1273.0px;" width="20" height="16" viewBox="0 0 20 16" fill="none"><path d="M4.6 5.1 L10 10.9 L15.4 5.1" stroke="#1b1d21" stroke-width="3.0" stroke-linecap="round" stroke-linejoin="round"/></svg>
<div class="b" style="left:1643.2px;top:1248.8px;width:186.5px;height:62.4px;border:2px solid #ebedf4;border-radius:10px;background:#fff;"></div>
<span class="t" style="left:1668.6px;top:1266.0px;font-size:29px;transform:scaleX(1.0281);">Country</span>
<svg class="b" style="left:1788.0px;top:1273.0px;" width="20" height="16" viewBox="0 0 20 16" fill="none"><path d="M4.6 5.1 L10 10.9 L15.4 5.1" stroke="#1b1d21" stroke-width="3.0" stroke-linecap="round" stroke-linejoin="round"/></svg>
<div class="b" style="left:1847.0px;top:1248.8px;width:352.0px;height:62.4px;border:2px solid #ebedf4;border-radius:10px;background:#fff;"></div>
<svg class="b" style="left:1870.2px;top:1263.2px;" width="32" height="34" viewBox="0 0 32 34" fill="none"><rect x="4.2" y="6.3" width="24" height="23" rx="4" stroke="#1b1d21" stroke-width="2.8"/><path d="M4.2 15 H28.2 M10.6 2.8 V9.2 M21.8 2.8 V9.2" stroke="#1b1d21" stroke-width="2.8" stroke-linecap="round"/></svg>
<span class="t" style="left:1919.5px;top:1266.0px;font-size:29px;transform:scaleX(1.0104);">Discovered since</span>
<svg class="b" style="left:2158.0px;top:1273.0px;" width="20" height="16" viewBox="0 0 20 16" fill="none"><path d="M4.6 5.1 L10 10.9 L15.4 5.1" stroke="#1b1d21" stroke-width="3.0" stroke-linecap="round" stroke-linejoin="round"/></svg>
<div class="b" style="left:2216.4px;top:1250.4px;width:252.2px;height:61.2px;background:#f6f6f7;border-radius:11px;"></div>
<svg class="b" style="left:2238.0px;top:1262.0px;" width="38" height="36" viewBox="0 0 38 36" fill="none"><path d="M21.93 28.44 A11.9 11.9 0 1 1 28.45 18.6" stroke="#1b1d21" stroke-width="2.8" stroke-linecap="round"/><path d="M24.4 16.5 L28.5 20.8 L32.7 16.5" stroke="#1b1d21" stroke-width="2.9" stroke-linecap="round" stroke-linejoin="round"/></svg>
<span class="t" style="left:2289.2px;top:1266.0px;font-size:29px;transform:scaleX(1.0124);">Reset filters</span>
<div class="b" style="left:450.0px;top:1345.4px;width:2138.0px;height:2.0px;background:#eceef4;"></div>
<span class="t" style="left:656.9px;top:1393.0px;font-size:25px;font-weight:700;transform:scaleX(0.9855);">Hostname</span>
<span class="t" style="left:892.2px;top:1393.0px;font-size:25px;font-weight:700;transform:scaleX(0.9320);">APIs</span>
<span class="t" style="left:1004.4px;top:1393.0px;font-size:25px;font-weight:700;transform:scaleX(0.9647);">API types</span>
<span class="t" style="left:1215.5px;top:1393.0px;font-size:25px;font-weight:700;transform:scaleX(0.9834);">Security vendor</span>
<span class="t" style="left:1468.3px;top:1393.0px;font-size:25px;font-weight:700;transform:scaleX(0.9730);">WAAP score</span>
<svg class="b" style="left:1619.4px;top:1387.8px;" width="35.2" height="35.2" viewBox="0 0 32 32" fill="none"><circle cx="16" cy="16" r="11.77" stroke="#8b96b5" stroke-width="2.45"/><path d="M12.3 12.9 a3.8 3.8 0 1 1 5.9 3.2 c-1.4 0.9 -2.1 1.5 -2.1 3.1" stroke="#8b96b5" stroke-width="2.45" stroke-linecap="round" stroke-linejoin="round"/><circle cx="16.05" cy="22.7" r="1.48" fill="#8b96b5"/></svg>
<span class="t" style="left:1770.3px;top:1374.0px;font-size:25px;font-weight:700;transform:scaleX(0.9802);">Security</span>
<span class="t" style="left:1770.3px;top:1410.0px;font-size:25px;font-weight:700;transform:scaleX(0.9727);">issues</span>
<span class="t" style="left:2005.0px;top:1393.0px;font-size:25px;font-weight:700;transform:scaleX(0.9697);">Location</span>
<span class="t" style="left:2240.3px;top:1393.0px;font-size:25px;font-weight:700;transform:scaleX(0.9862);">Scanned date</span>
<div class="b" style="left:0.0px;top:1428.0px;width:2588.0px;height:2.0px;background:#eceef3;"></div>
<div class="b" style="left:1796.0px;top:201.0px;width:528.0px;height:1002.0px;background:#fff;border-radius:18px;box-shadow:0 10px 26px rgba(40,50,90,0.12),0 0 8px rgba(40,50,90,0.04);"></div>
<span class="t" style="left:1836.8px;top:224.0px;font-size:29px;font-weight:700;color:#000;transform:scaleX(0.9872);">Report file format</span>
<div class="b" style="left:1835.4px;top:273.4px;width:449.0px;height:64.8px;border:2px solid #d5dbe8;border-radius:9px;background:#fff;overflow:hidden;"></div>
<div class="b" style="left:1837.4px;top:275.4px;width:154.6px;height:60.8px;background:#fef3e3;border-radius:7px 0 0 7px;"></div>
<div class="b" style="left:1992.0px;top:275.4px;width:2.0px;height:60.8px;background:#d5dbe8;"></div>
<div class="b" style="left:2128.0px;top:275.4px;width:2.0px;height:60.8px;background:#d5dbe8;"></div>
<span class="t" style="left:1875.0px;top:292.0px;font-size:29px;color:#fb7305;transform:scaleX(0.9310);">DOCX</span>
<span class="t" style="left:2033.7px;top:292.0px;font-size:29px;color:#000;letter-spacing:-0.083px;transform:scaleX(0.9300);">CSV</span>
<span class="t" style="left:2169.6px;top:292.0px;font-size:29px;color:#000;transform:scaleX(0.9361);">JSON</span>
<div class="b" style="left:1838.3px;top:372.2px;width:43.4px;height:43.4px;border:2px solid #ebedf4;border-radius:50%;background:#fff;"></div>
<span class="t" style="left:1901.3px;top:380.0px;font-size:29px;color:#000;transform:scaleX(1.0162);">All security issues</span>
<div class="b" style="left:1838.0px;top:436.2px;width:44.0px;height:44.0px;background:#fef2ec;border-radius:50%;"></div>
<div class="b" style="left:1850.0px;top:448.1px;width:20.2px;height:20.2px;background:#fb7305;border-radius:50%;"></div>
<span class="t" style="left:1901.3px;top:444.0px;font-size:29px;color:#000;transform:scaleX(0.9949);">Custom</span>
<div class="b" style="left:1904.0px;top:518.0px;width:40.0px;height:40.0px;background:#fef2ec;border-radius:7px;"></div>
<svg class="b" style="left:1904.0px;top:518.0px;" width="40" height="40" viewBox="0 0 40 40" fill="none"><path d="M10.3 23.6 L17 30.2 L30.4 16.8" stroke="#fb7305" stroke-width="3.7" stroke-linecap="round" stroke-linejoin="round"/></svg>
<span class="t" style="left:1961.3px;top:524.0px;font-size:29px;color:#000;transform:scaleX(1.0089);">Critical</span>
<div class="b" style="left:1904.0px;top:580.0px;width:40.0px;height:40.0px;background:#fef2ec;border-radius:7px;"></div>
<svg class="b" style="left:1904.0px;top:580.0px;" width="40" height="40" viewBox="0 0 40 40" fill="none"><path d="M10.3 23.6 L17 30.2 L30.4 16.8" stroke="#fb7305" stroke-width="3.7" stroke-linecap="round" stroke-linejoin="round"/></svg>
<span class="t" style="left:1961.3px;top:586.0px;font-size:29px;color:#000;transform:scaleX(0.9708);">High</span>
<div class="b" style="left:1903.8px;top:642.0px;width:40.2px;height:40.0px;border:2px solid #dde1ec;border-radius:6px;background:#fff;"></div>
<span class="t" style="left:1961.3px;top:648.0px;font-size:29px;color:#000;transform:scaleX(1.0035);">Medium</span>
<div class="b" style="left:1903.8px;top:704.0px;width:40.2px;height:40.0px;border:2px solid #dde1ec;border-radius:6px;background:#fff;"></div>
<span class="t" style="left:1961.3px;top:710.0px;font-size:29px;color:#000;transform:scaleX(0.9850);">Low</span>
<div class="b" style="left:1903.8px;top:766.0px;width:40.2px;height:40.0px;border:2px solid #dde1ec;border-radius:6px;background:#fff;"></div>
<span class="t" style="left:1961.3px;top:772.0px;font-size:29px;color:#000;transform:scaleX(0.9860);">Info</span>
<div class="b" style="left:1836.0px;top:840.0px;width:447.5px;height:63.4px;background:#fef2ec;border-radius:11px;"></div>
<span class="t" style="left:1995.0px;top:859.0px;font-size:29px;color:#fb7305;transform:scaleX(1.0119);">Download</span>
<div class="b" style="left:1836.0px;top:936.4px;width:447.5px;height:3.4px;background:#eceef4;"></div>
<span class="t" style="left:1836.5px;top:978.0px;font-size:29px;font-weight:700;color:#000;transform:scaleX(0.9648);">Send to:</span>
<div class="b" style="left:1836.0px;top:1027.6px;width:447.5px;height:64.0px;border:2.6px solid #f97316;border-radius:11px;background:#fff;"></div>
<span class="t" style="left:1862.0px;top:1047.0px;font-size:29px;transform:scaleX(1.0160);">johndoe@company.com</span>
<div class="b" style="left:1836.0px;top:1108.0px;width:447.5px;height:63.8px;background:#fef2ec;border-radius:11px;"></div>
<span class="t" style="left:1982.3px;top:1126.0px;font-size:29px;color:#fb7305;transform:scaleX(1.0294);">Send report</span>
<div class="b" style="left:2084.3px;top:560.3px;width:451.7px;height:690.2px;background:#fff;border:2px solid #a9b0b8;"></div>
<span class="t" style="left:2117.2px;top:590.0px;font-size:25px;font-weight:700;color:#000;transform:scaleX(0.9734);">Report file format</span>
<div class="b" style="left:2116.6px;top:633.5px;width:381.6px;height:54.2px;border:2px solid #dfe3ee;border-radius:9px;background:#fff;"></div>
<div class="b" style="left:2250.5px;top:635.5px;width:116.0px;height:50.2px;background:#fef3e3;"></div>
<div class="b" style="left:2249.2px;top:635.5px;width:1.6px;height:50.2px;background:#dfe3ee;"></div>
<div class="b" style="left:2365.6px;top:635.5px;width:1.6px;height:50.2px;background:#dfe3ee;"></div>
<span class="t" style="left:2150.0px;top:648.0px;font-size:25px;color:#000;letter-spacing:-0.421px;transform:scaleX(0.9300);">DOCX</span>
<span class="t" style="left:2285.0px;top:648.0px;font-size:25px;color:#fb7305;letter-spacing:-0.972px;transform:scaleX(0.9300);">CSV</span>
<span class="t" style="left:2401.0px;top:648.0px;font-size:25px;color:#000;letter-spacing:-0.361px;transform:scaleX(0.9300);">JSON</span>
<span class="t" style="left:2117.0px;top:720.0px;font-size:25px;font-weight:700;color:#000;transform:scaleX(0.9415);">Group by</span>
<div class="b" style="left:2118.2px;top:765.2px;width:37.0px;height:37.0px;background:#fef2ec;border-radius:50%;"></div>
<div class="b" style="left:2128.1px;top:775.1px;width:17.2px;height:17.2px;background:#fb7305;border-radius:50%;"></div>
<span class="t" style="left:2172.0px;top:772.0px;font-size:25px;color:#000;transform:scaleX(0.9937);">Hosts</span>
<div class="b" style="left:2118.2px;top:819.5px;width:37.0px;height:37.0px;border:2px solid #ecedf4;border-radius:50%;background:#fff;"></div>
<span class="t" style="left:2172.0px;top:826.0px;font-size:25px;color:#000;transform:scaleX(0.9940);">Ports</span>
<div class="b" style="left:2118.2px;top:873.5px;width:37.0px;height:37.0px;border:2px solid #ecedf4;border-radius:50%;background:#fff;"></div>
<span class="t" style="left:2172.0px;top:881.0px;font-size:25px;color:#000;letter-spacing:-0.215px;transform:scaleX(0.9300);">APIs</span>
<div class="b" style="left:2116.6px;top:941.0px;width:381.6px;height:54.0px;background:#fef2ec;border-radius:9px;"></div>
<span class="t" style="left:2252.0px;top:955.0px;font-size:25px;color:#fb7305;transform:scaleX(0.9939);">Download</span>
<div class="b" style="left:2116.6px;top:1022.6px;width:381.6px;height:3.2px;background:#eceef4;"></div>
<span class="t" style="left:2117.0px;top:1058.0px;font-size:25px;font-weight:700;color:#000;transform:scaleX(0.9502);">Send to:</span>
<div class="b" style="left:2117.0px;top:1101.6px;width:381.0px;height:54.0px;border:2px solid #ecedf4;border-radius:8px;background:#fff;"></div>
<span class="t" style="left:2139.0px;top:1116.0px;font-size:25px;transform:scaleX(1.0034);">johndoe@company.com</span>
<div class="b" style="left:2116.6px;top:1170.0px;width:381.6px;height:53.6px;background:#fef2ec;border-radius:9px;"></div>
<span class="t" style="left:2241.0px;top:1184.0px;font-size:25px;color:#fb7305;transform:scaleX(1.0166);">Send report</span>
<svg class="b" style="left:2060.0px;top:300.0px;" width="280" height="360" viewBox="0 0 280 360" fill="none"><defs><filter id="ash" x="-20%" y="-10%" width="140%" height="120%"><feGaussianBlur in="SourceAlpha" stdDeviation="2.2"/><feOffset dx="-3.5" dy="2.5"/><feComponentTransfer><feFuncA type="linear" slope="0.45"/></feComponentTransfer><feMerge><feMergeNode/><feMergeNode in="SourceGraphic"/></feMerge></filter></defs><g filter="url(#ash)"><path d="M40.3 28.6 L232.6 325.6" stroke="#ff5549" stroke-width="4.2" stroke-linecap="butt"/><path d="M238 333.9 L227.2 327.3 L236.5 321.6 Z" fill="#ff5549" stroke="#ff5549" stroke-width="0.8" stroke-linejoin="round"/></g></svg>
</div></body></html>
